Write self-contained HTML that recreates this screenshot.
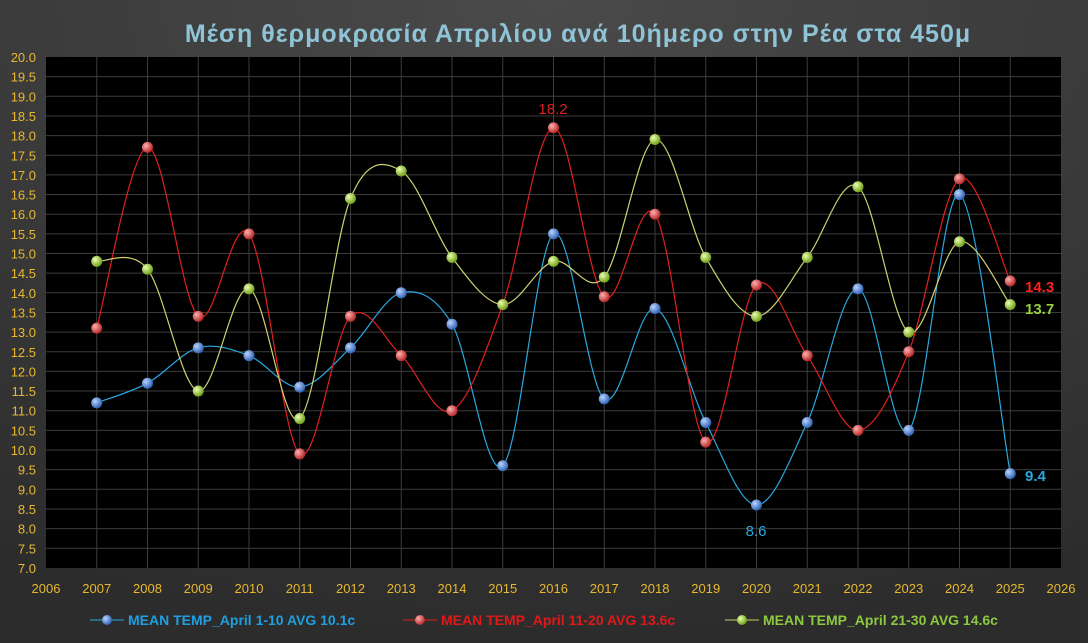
<!DOCTYPE html>
<html><head><meta charset="utf-8"><style>
body{margin:0;width:1088px;height:643px;overflow:hidden;background:#3a3a3a;}
svg{display:block}
text{font-family:"Liberation Sans","DejaVu Sans",sans-serif}
</style></head><body>
<svg id="s" width="1088" height="643" xmlns="http://www.w3.org/2000/svg">
<defs>
<radialGradient id="bg" cx="0.5" cy="0" r="1"><stop offset="0" stop-color="#4a4a4a"/><stop offset="1" stop-color="#2c2c2c"/></radialGradient>
<radialGradient id="gb" cx="0.35" cy="0.35" r="0.7"><stop offset="0" stop-color="#b8d4ff"/><stop offset="1" stop-color="#2a5cb0"/></radialGradient>
<radialGradient id="gr" cx="0.35" cy="0.35" r="0.7"><stop offset="0" stop-color="#ffb0b0"/><stop offset="1" stop-color="#b02020"/></radialGradient>
<radialGradient id="gg" cx="0.35" cy="0.35" r="0.7"><stop offset="0" stop-color="#eaffb0"/><stop offset="1" stop-color="#6a9a10"/></radialGradient>
</defs>
<rect width="1088" height="643" fill="url(#bg)"/>
<text x="578" y="42" text-anchor="middle" font-size="25" font-weight="bold" fill="#8fc3d6" letter-spacing="1">Μέση θερμοκρασία Απριλίου ανά 10ήμερο στην Ρέα στα 450μ</text>
<rect x="46" y="57" width="1015" height="511" fill="#000"/>
<g id="grid" stroke="#3c3c3c" stroke-width="1"></g>
<g font-size="13" fill="#e8b830" text-anchor="end">
<text x="36" y="62">20.0</text><text x="36" y="101">19.5</text><text x="36" y="141">19.0</text><text x="36" y="180">18.5</text><text x="36" y="219">18.0</text><text x="36" y="258">17.5</text><text x="36" y="298">17.0</text><text x="36" y="337">16.5</text><text x="36" y="376">16.0</text><text x="36" y="416">15.5</text><text x="36" y="455">15.0</text><text x="36" y="494">14.5</text><text x="36" y="533">14.0</text><text x="36" y="573">13.5</text>
</g>
<g id="ylab" font-size="13" fill="#e8b830" text-anchor="end"></g>
<g id="xlab" font-size="13" fill="#e8b830" text-anchor="middle"></g>
<g id="series"></g>
<text x="553" y="114" text-anchor="middle" font-size="15" fill="#e02020">18.2</text>
<text x="756" y="536" text-anchor="middle" font-size="15" fill="#29a8e0">8.6</text>
<text x="1025" y="292" font-size="15" font-weight="bold" fill="#ff2020">14.3</text>
<text x="1025" y="314" font-size="15" font-weight="bold" fill="#9acd40">13.7</text>
<text x="1025" y="481" font-size="15" font-weight="bold" fill="#29a8e0">9.4</text>
<g font-size="14" font-weight="bold">
<line x1="90" y1="620" x2="124" y2="620" stroke="#29a8e0"/><circle cx="107" cy="620" r="5" fill="url(#gb)"/>
<text x="128" y="625" fill="#1ea0e0">MEAN TEMP_April 1-10 AVG 10.1c</text>
<line x1="403" y1="620" x2="437" y2="620" stroke="#e02020"/><circle cx="420" cy="620" r="5" fill="url(#gr)"/>
<text x="441" y="625" fill="#e01818">MEAN TEMP_April 11-20 AVG 13.6c</text>
<line x1="725" y1="620" x2="759" y2="620" stroke="#c8d060"/><circle cx="742" cy="620" r="5" fill="url(#gg)"/>
<text x="763" y="625" fill="#8cc840">MEAN TEMP_April 21-30 AVG 14.6c</text>
</g>
</svg>
<script>
var NS="http://www.w3.org/2000/svg";
function X(y){return 46+(y-2006)*50.75}
function Y(v){return 57+(20-v)*39.3}
var g=document.getElementById('grid');
function el(p,tag,a){var e=document.createElementNS(NS,tag);for(var k in a)e.setAttribute(k,a[k]);p.appendChild(e);return e}
for(var i=1;i<20;i++)el(g,'line',{x1:X(2006+i),x2:X(2006+i),y1:57,y2:568});
for(var i=1;i<26;i++)el(g,'line',{x1:46,x2:1061,y1:Y(7+i*0.5),y2:Y(7+i*0.5)});
// replace static y labels fully with generated ones
document.querySelector('g[fill="#e8b830"]').innerHTML="";
var yl=document.getElementById('ylab');
for(var i=0;i<=26;i++){var v=20-i*0.5;var t=el(yl,'text',{x:36,y:Y(v)+5});t.textContent=v.toFixed(1);}
var xl=document.getElementById('xlab');
for(var y=2006;y<=2026;y++){var t=el(xl,'text',{x:X(y),y:593});t.textContent=y;}
var B=[11.2,11.7,12.6,12.4,11.6,12.6,14.0,13.2,9.6,15.5,11.3,13.6,10.7,8.6,10.7,14.1,10.5,16.5,9.4];
var R=[13.1,17.7,13.4,15.5,9.9,13.4,12.4,11.0,13.7,18.2,13.9,16.0,10.2,14.2,12.4,10.5,12.5,16.9,14.3];
var G=[14.8,14.6,11.5,14.1,10.8,16.4,17.1,14.9,13.7,14.8,14.4,17.9,14.9,13.4,14.9,16.7,13.0,15.3,13.7];
var S=document.getElementById('series');
function draw(d,col,grad){
 var p=d.map(function(v,i){return [X(2007+i),Y(v)]});
 var s="M"+p[0][0]+","+p[0][1];
 for(var i=0;i<p.length-1;i++){var p0=p[i>0?i-1:i],p1=p[i],p2=p[i+1],p3=p[i+2<p.length?i+2:i+1];var t=1/6;
  s+=" C"+(p1[0]+(p2[0]-p0[0])*t)+","+(p1[1]+(p2[1]-p0[1])*t)+" "+(p2[0]-(p3[0]-p1[0])*t)+","+(p2[1]-(p3[1]-p1[1])*t)+" "+p2[0]+","+p2[1];}
 el(S,'path',{d:s,fill:'none',stroke:col,'stroke-width':1.2});
 p.forEach(function(q){el(S,'circle',{cx:q[0],cy:q[1],r:5.5,fill:'url(#'+grad+')'})});
}
draw(B,'#29a8e0','gb');draw(R,'#e02020','gr');draw(G,'#d0d070','gg');
</script>
</body></html>
